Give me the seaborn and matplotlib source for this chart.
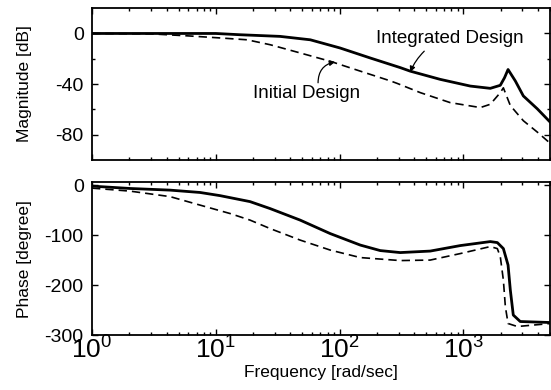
import seaborn as sns
import matplotlib.pyplot as plt
from matplotlib.ticker import FixedLocator, LogLocator, NullFormatter

# magnitude, integrated design (solid)
mag_int_freq = [1, 10, 15.7, 33, 58, 101, 177, 309, 372, 650, 1137, 1650, 1987, 2150, 2296, 2630, 3050, 3955, 5045]
mag_int_db = [0, 0, -1, -2.3, -5, -11.5, -19.4, -27, -29.8, -36.3, -41.6, -43.4, -41, -35, -28.5, -37.6, -49.4, -59.6, -70.3]

# magnitude, initial design (dashed)
mag_ini_freq = [1, 3, 6.2, 11.5, 17.9, 27.5, 48, 84, 147, 257, 292, 449, 783, 1371, 1650, 1987, 2104, 2395, 3050, 3955, 5045]
mag_ini_db = [0, -0.3, -2, -3.7, -5, -8.9, -15.4, -22, -29.8, -37.5, -39.5, -46.8, -54.7, -58.6, -56, -46.8, -43, -57, -69, -78, -87]

# phase, integrated design (solid)
ph_int_freq = [1, 2.03, 4.27, 7.46, 10.8, 18.9, 27.5, 48, 84, 147, 213, 309, 540, 944, 1650, 1880, 2104, 2296, 2395, 2530, 2880, 5045]
ph_int_deg = [-2, -6.7, -10, -14.7, -21, -33, -47, -70, -97, -120, -131, -135, -132, -121, -113, -115, -127, -160, -210, -260, -273, -275]

# phase, initial design (dashed)
ph_ini_freq = [1, 2.03, 4.27, 7.46, 13.1, 18.9, 27.5, 48, 84, 147, 309, 540, 944, 1650, 1880, 1987, 2104, 2183, 2296, 2730, 5045]
ph_ini_deg = [-6, -12, -23, -40, -57, -70, -87, -110, -130, -145, -151, -150, -137, -123, -127, -143, -190, -243, -277, -283, -277]

sns.set_style('ticks')
plt.rcParams['font.family'] = ['Liberation Sans', 'DejaVu Sans']
plt.rcParams['mathtext.default'] = 'regular'
plt.rcParams['axes.unicode_minus'] = False
for key in ['text.color', 'axes.labelcolor', 'xtick.color', 'ytick.color', 'axes.edgecolor']:
    plt.rcParams[key] = 'black'

fig = plt.figure(figsize=(5.51, 3.9), dpi=100)
ax1 = fig.add_axes([0.167, 0.590, 0.831, 0.389])
ax2 = fig.add_axes([0.167, 0.141, 0.831, 0.392])

sns.lineplot(x=mag_int_freq, y=mag_int_db, ax=ax1, color='black', lw=2)
sns.lineplot(x=mag_ini_freq, y=mag_ini_db, ax=ax1, color='black', lw=1.2, linestyle=(0, (5, 3)))
sns.lineplot(x=ph_int_freq, y=ph_int_deg, ax=ax2, color='black', lw=2)
sns.lineplot(x=ph_ini_freq, y=ph_ini_deg, ax=ax2, color='black', lw=1.2, linestyle=(0, (5, 3)))

for ax in (ax1, ax2):
    ax.set_xscale('log')
    ax.set_xlim(1, 5000)
    ax.xaxis.set_major_locator(LogLocator(base=10, numticks=10))
    ax.xaxis.set_minor_locator(LogLocator(base=10, subs=range(2, 10), numticks=20))
    ax.xaxis.set_minor_formatter(NullFormatter())
    ax.tick_params(which='both', direction='in', top=True, right=True, width=1)
    ax.tick_params(which='major', length=4)
    ax.tick_params(which='minor', length=2.5)
    ax.tick_params(axis='y', labelsize=14, pad=6)
    for s in ax.spines.values():
        s.set_linewidth(1.3)
    ax.yaxis.set_label_coords(-0.13, 0.5)

ax1.set_ylim(-100, 20)
ax1.yaxis.set_major_locator(FixedLocator([-80, -40, 0]))
ax1.yaxis.set_minor_locator(FixedLocator([-60, -20]))
ax1.tick_params(axis='x', labelbottom=False)
ax1.set_ylabel('Magnitude [dB]', fontsize=12.5)

ax2.set_ylim(-300, 6)
ax2.yaxis.set_major_locator(FixedLocator([-300, -200, -100, 0]))
ax2.tick_params(axis='x', labelsize=19, pad=1)
ax2.set_ylabel('Phase [degree]', fontsize=12.5)
ax2.set_xlabel('Frequency [rad/sec]', fontsize=12.5, labelpad=1)

ax1.text(783, -3.9, 'Integrated Design', fontsize=13.5, ha='center', va='center')
ax1.annotate('', xy=(372, -30.5), xytext=(483, -14),
             arrowprops=dict(arrowstyle='-|>', color='black', lw=0.9, mutation_scale=8,
                             connectionstyle='arc3,rad=0.1', shrinkA=0, shrinkB=0))
ax1.text(53.7, -47.5, 'Initial Design', fontsize=13.5, ha='center', va='center')
ax1.annotate('', xy=(92, -22.5), xytext=(67, -39),
             arrowprops=dict(arrowstyle='-|>', color='black', lw=0.9, mutation_scale=8,
                             connectionstyle='arc3,rad=-0.4', shrinkA=0, shrinkB=0))

plt.savefig('out.png', dpi=100)
